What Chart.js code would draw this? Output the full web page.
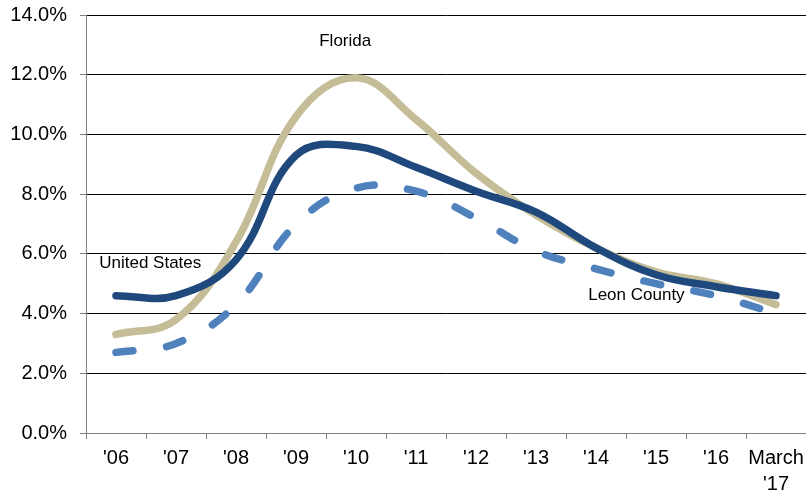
<!DOCTYPE html>
<html>
<head>
<meta charset="utf-8">
<script src="https://cdn.jsdelivr.net/npm/chart.js@4"></script>
<style>
  html, body { margin: 0; padding: 0; background: #ffffff; }
  #wrap { width: 806px; height: 492px; position: relative; }
</style>
</head>
<body>
<div id="wrap"><canvas id="c"></canvas></div>
<script>
// Categories (x axis)
const categories = ["'06", "'07", "'08", "'09", "'10", "'11", "'12", "'13", "'14", "'15", "'16", ["March", "'17"]];
// Unemployment rate, percent
const usRate      = [4.6, 4.6, 5.8, 9.3, 9.6, 8.9, 8.1, 7.4, 6.2, 5.3, 4.9, 4.6];
const floridaRate = [3.3, 3.8, 6.4, 10.6, 11.9, 10.5, 8.7, 7.3, 6.2, 5.4, 5.0, 4.3];
const leonRate    = [2.7, 3.0, 4.3, 7.0, 8.2, 8.1, 7.2, 6.1, 5.5, 5.0, 4.6, 4.0];
// Y axis ticks
const yMin = 0, yMax = 14, yStep = 2;
// Series names
const seriesNames = ["United States", "Florida", "Leon County"];

const textLabels = [
  { text: "Florida",       xIdx: 3.82,  y: 13.13, align: "center" },
  { text: "United States", xIdx: -0.28, y: 5.70,  align: "left" },
  { text: "Leon County",   xIdx: 7.87,  y: 4.62,  align: "left" }
];

const labelPlugin = {
  id: 'seriesText',
  afterDatasetsDraw(chart) {
    const ctx = chart.ctx, xs = chart.scales.x, ys = chart.scales.y;
    ctx.save();
    ctx.font = '17px "Liberation Sans", Arial, sans-serif';
    ctx.fillStyle = '#000000';
    ctx.textBaseline = 'middle';
    textLabels.forEach(l => {
      ctx.textAlign = l.align;
      ctx.fillText(l.text, xs.getPixelForValue(l.xIdx), ys.getPixelForValue(l.y));
    });
    ctx.restore();
  }
};

new Chart(document.getElementById('c'), {
  type: 'line',
  data: {
    labels: categories,
    datasets: [
      { label: seriesNames[0], data: usRate, borderColor: '#1F497D', borderWidth: 7.5,
        tension: 0.4, pointRadius: 0, borderCapStyle: 'round', borderJoinStyle: 'round', order: 0, fill: false },
      { label: seriesNames[2], data: leonRate, borderColor: '#4F81BD', borderWidth: 7.5,
        tension: 0.4, pointRadius: 0, borderCapStyle: 'round', borderDash: [17, 34], order: 1, fill: false },
      { label: seriesNames[1], data: floridaRate, borderColor: '#C4BD97', borderWidth: 7.5,
        tension: 0.4, pointRadius: 0, borderCapStyle: 'round', borderJoinStyle: 'round', order: 2, fill: false }
    ]
  },
  options: {
    responsive: true,
    maintainAspectRatio: false,
    animation: false,
    layout: { padding: { top: 15, right: 0, left: 0, bottom: 0 } },
    plugins: { legend: { display: false }, tooltip: { enabled: false } },
    scales: {
      x: {
        offset: true,
        grid: { offset: true, drawOnChartArea: false, drawTicks: true, tickLength: 6, color: '#808080', lineWidth: 1 },
        border: { color: '#808080', width: 1 },
        ticks: { color: '#000000', font: { family: '"Liberation Sans", Arial, sans-serif', size: 20, lineHeight: 1.3 },
                 padding: 6, maxRotation: 0, autoSkip: false },
        afterFit(scale) { scale.height = 59; scale.paddingLeft = 0; scale.paddingRight = 0; }
      },
      y: {
        min: yMin, max: yMax,
        ticks: { stepSize: yStep, color: '#000000', padding: 13,
                 font: { family: '"Liberation Sans", Arial, sans-serif', size: 20 },
                 callback: v => v.toFixed(1) + '%' },
        grid: { color: ctx => (ctx.tick && ctx.tick.value === 0) ? '#808080' : '#000000', lineWidth: 1, tickLength: 6,
                tickColor: '#808080' },
        border: { color: '#808080', width: 1 },
        afterFit(scale) { scale.width = 86; scale.paddingTop = 0; scale.paddingBottom = 0; }
      }
    }
  },
  plugins: [labelPlugin]
});
</script>
</body>
</html>
